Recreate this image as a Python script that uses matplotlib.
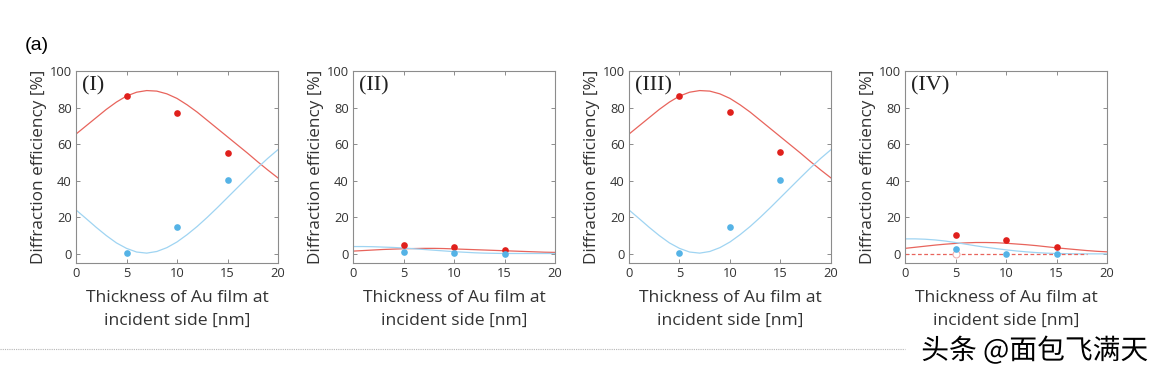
import matplotlib
matplotlib.use("Agg")
import matplotlib.pyplot as plt
import matplotlib.patheffects as pe

plt.rcParams['font.family'] = ['Open Sans', 'DejaVu Sans']

# ---- data ----
panel_labels = ["(I)", "(II)", "(III)", "(IV)"]
xticks = [0, 5, 10, 15, 20]
yticks = [0, 20, 40, 60, 80, 100]

meas_x = [5, 10, 15]

# measured points (red = order A, blue = order B)
red_pts_I = [86.5, 77.3, 55.0]
blue_pts_I = [0.5, 14.5, 40.5]
red_pts_II = [4.9, 3.6, 2.0]
blue_pts_II = [1.1, 0.2, 0.0]
red_pts_III = [86.5, 77.5, 55.5]
blue_pts_III = [0.5, 14.7, 40.3]
red_pts_IV = [10.2, 7.8, 3.6]
blue_pts_IV = [2.6, 0.1, 0.1]
hollow_pts_IV_x = [5]
hollow_pts_IV_y = [0.0]

# simulated curves sampled every 1 nm
curve_x = [0, 1, 2, 3, 4, 5, 6, 7, 8, 9, 10, 11, 12, 13, 14, 15, 16, 17, 18, 19, 20]
red_curve_I = [65.5, 70.0, 74.5, 79.0, 83.0, 86.3, 88.4, 89.3, 89.0, 87.5, 85.0,
               81.5, 77.5, 73.0, 68.5, 64.0, 59.5, 55.0, 50.3, 45.8, 41.5]
blue_curve_I = [24.0, 19.3, 14.5, 10.0, 6.0, 3.0, 1.0, 0.4, 1.3, 3.4, 6.5,
                10.5, 15.0, 20.0, 25.3, 30.8, 36.3, 41.8, 47.2, 52.3, 57.0]
red_curve_II = [1.5, 1.8, 2.1, 2.4, 2.6, 2.8, 2.9, 3.0, 3.0, 2.9, 2.7,
                2.5, 2.3, 2.1, 1.9, 1.7, 1.5, 1.3, 1.1, 0.9, 0.8]
blue_curve_II = [4.0, 4.0, 3.9, 3.7, 3.5, 3.2, 2.8, 2.4, 2.0, 1.6, 1.2,
                 0.9, 0.6, 0.4, 0.3, 0.2, 0.2, 0.2, 0.2, 0.2, 0.2]
red_curve_III = red_curve_I
blue_curve_III = blue_curve_I
red_curve_IV = [3.0, 3.6, 4.2, 4.8, 5.3, 5.7, 6.0, 6.2, 6.2, 6.1, 5.8,
                5.4, 5.0, 4.5, 3.9, 3.3, 2.8, 2.3, 1.8, 1.4, 1.1]
blue_curve_IV = [8.2, 8.2, 8.0, 7.6, 7.0, 6.2, 5.3, 4.4, 3.6, 2.9, 2.2,
                 1.6, 1.1, 0.7, 0.4, 0.2, 0.1, 0.0, 0.0, 0.0, 0.0]
dashed_x = [0, 18]
dashed_y = [0, 0]

panels = [
    (red_pts_I, blue_pts_I, red_curve_I, blue_curve_I),
    (red_pts_II, blue_pts_II, red_curve_II, blue_curve_II),
    (red_pts_III, blue_pts_III, red_curve_III, blue_curve_III),
    (red_pts_IV, blue_pts_IV, red_curve_IV, blue_curve_IV),
]

RED_PT = "#e0201c"
BLUE_PT = "#55b3e6"
RED_LN = "#e8645c"
BLUE_LN = "#9fd4f2"
SPINE = "#8c8c8c"
TXT = "#333333"

W, H = 1160, 379
fig = plt.figure(figsize=(W / 100, H / 100), dpi=100)

lefts = [76, 353, 629, 905]
ax_w = 202
ax_top = 71
ax_bot = 263

for i, (rp, bp, rc, bc) in enumerate(panels):
    ax = fig.add_axes([lefts[i] / W, 1 - ax_bot / H, ax_w / W, (ax_bot - ax_top) / H])
    ax.plot(curve_x, rc, color=RED_LN, lw=0.9, zorder=2)
    ax.plot(curve_x, bc, color=BLUE_LN, lw=0.9, zorder=2)
    if i == 3:
        ax.plot(dashed_x, dashed_y, color=RED_LN, lw=0.9, ls=(0, (3, 2)), zorder=2)
        ax.plot(hollow_pts_IV_x, hollow_pts_IV_y, 'o', ms=5, mfc='white',
                mec="#f0b0b0", mew=0.8, zorder=3)
    ax.plot(meas_x, rp, 'o', color=RED_PT, ms=4.8, mew=0, zorder=4)
    ax.plot(meas_x, bp, 'o', color=BLUE_PT, ms=4.8, mew=0, zorder=4)
    ax.set_xlim(0, 20)
    ax.set_ylim(-5, 100)
    ax.set_xticks(xticks)
    ax.set_yticks(yticks)
    ax.tick_params(direction='in', length=3, width=0.7, color=SPINE,
                   labelsize=9.3, labelcolor=TXT, top=True, right=True, pad=3)
    for s in ax.spines.values():
        s.set_color(SPINE)
        s.set_linewidth(0.8)
    ax.set_ylabel("Diffraction efficiency [%]", fontsize=12.3, color=TXT, labelpad=2)
    ax.set_xlabel("Thickness of Au film at\nincident side [nm]", fontsize=12.6,
                  color=TXT, labelpad=7, linespacing=1.55)
    ax.text(0.03, 0.975, panel_labels[i], transform=ax.transAxes, ha='left', va='top',
            fontsize=16, family='Liberation Serif', color="#222222", zorder=5)

fig.text(25 / W, 1 - 46 / H, "(a)", fontsize=14, family='Liberation Sans',
         ha='left', va='center', color='black')

# dotted separator line
fig.add_artist(plt.Line2D([0, 905 / W], [1 - 349 / H, 1 - 349 / H],
                          transform=fig.transFigure, color="#b5b5b5", lw=0.8,
                          ls=(0, (1, 1))))

fig.text(1148 / W, 1 - 351 / H, "头条 @面包飞满天", fontsize=20,
         family=['Noto Sans CJK SC', 'DejaVu Sans'], ha='right', va='center',
         color='black',
         path_effects=[pe.withStroke(linewidth=2.5, foreground='white')])

fig.savefig("out.png", dpi=100)
